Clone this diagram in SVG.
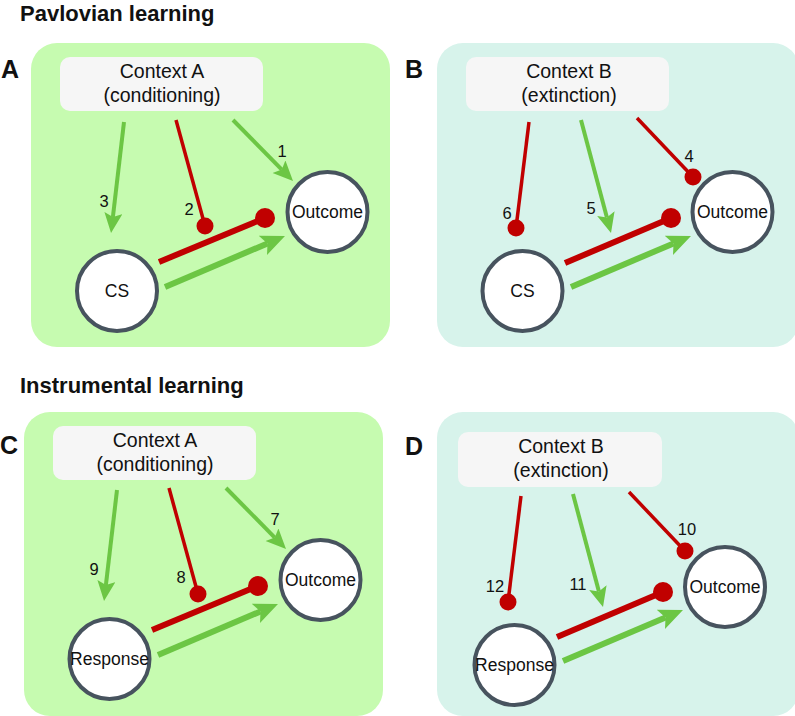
<svg xmlns="http://www.w3.org/2000/svg" width="795" height="716" viewBox="0 0 795 716">
<defs>
<style>
.title{font-family:"Liberation Sans",Arial,sans-serif;font-weight:bold;font-size:22px;fill:#111}
.plabel{font-family:"Liberation Sans",Arial,sans-serif;font-weight:bold;font-size:25px;fill:#111}
.ctx{font-family:"Liberation Sans",Arial,sans-serif;font-size:19.5px;fill:#111;text-anchor:middle}
.node{font-family:"Liberation Sans",Arial,sans-serif;font-size:17.5px;fill:#111;text-anchor:middle}
.num{font-family:"Liberation Sans",Arial,sans-serif;font-size:16.5px;fill:#111;text-anchor:middle}
.bgA{fill:#c6fbb0}
.bgB{fill:#d7f3eb}
.ctxbox{fill:#f6f6f6}
.circ{fill:#fff;stroke:#47535e;stroke-width:4}
.g{stroke:#6cc644;stroke-width:4;fill:none}
.gt{stroke:#6cc644;stroke-width:6;fill:none}
.r{stroke:#c00000;stroke-width:3.5;fill:none}
.rt{stroke:#c00000;stroke-width:6;fill:none}
.dot{fill:#c00000}
</style>
<marker id="ah" markerUnits="userSpaceOnUse" markerWidth="22" markerHeight="20" refX="4" refY="9" orient="auto">
<path d="M0,0 L20,9 L0,18 L4,9 z" fill="#6cc644"/>
</marker>
<marker id="ahT" markerUnits="userSpaceOnUse" markerWidth="26" markerHeight="23" refX="5" refY="10.5" orient="auto">
<path d="M0,0 L24,10.5 L0,21 L5,10.5 z" fill="#6cc644"/>
</marker>
</defs>
<rect width="795" height="716" fill="#fff"/>

<text class="title" x="20" y="21">Pavlovian learning</text>
<text class="title" x="20" y="393">Instrumental learning</text>

<g id="panelA">
<rect class="bgA" x="31" y="43" width="359" height="304" rx="26"/>
<text class="plabel" x="1" y="78">A</text>
</g>
<g id="panelB">
<rect class="bgB" x="437" y="43" width="362" height="304" rx="26"/>
<text class="plabel" x="405" y="78">B</text>
</g>
<g id="panelC">
<rect class="bgA" x="24" y="412" width="359" height="304" rx="26"/>
<text class="plabel" x="0" y="454">C</text>
</g>
<g id="panelD">
<rect class="bgB" x="437" y="412" width="362" height="304" rx="26"/>
<text class="plabel" x="405" y="455">D</text>
</g>

<g id="connectors">
<!-- A -->
<line class="g" x1="124" y1="122" x2="112.9" y2="217.1" marker-end="url(#ah)"/>
<line class="r" x1="176" y1="120" x2="205" y2="226"/>
<circle class="dot" cx="205" cy="226" r="8.5"/>
<line class="g" x1="233" y1="120" x2="281.8" y2="169.6" marker-end="url(#ah)"/>
<line class="rt" x1="159" y1="262" x2="265" y2="218"/>
<circle class="dot" cx="265" cy="218" r="10"/>
<line class="gt" x1="165" y1="287" x2="267.5" y2="243.4" marker-end="url(#ahT)"/>
<!-- B -->
<line class="r" x1="529" y1="122" x2="516" y2="228"/>
<circle class="dot" cx="516" cy="228" r="8.5"/>
<line class="g" x1="581" y1="120" x2="606.9" y2="217.5" marker-end="url(#ah)"/>
<line class="r" x1="637" y1="118" x2="693" y2="177"/>
<circle class="dot" cx="693" cy="177" r="8.5"/>
<line class="rt" x1="565" y1="263" x2="671" y2="218"/>
<circle class="dot" cx="671" cy="218" r="10"/>
<line class="gt" x1="571" y1="287" x2="673.5" y2="243.4" marker-end="url(#ahT)"/>
<!-- C -->
<line class="g" x1="117" y1="490" x2="105.9" y2="585.1" marker-end="url(#ah)"/>
<line class="r" x1="169" y1="488" x2="198" y2="594"/>
<circle class="dot" cx="198" cy="594" r="8.5"/>
<line class="g" x1="226" y1="488" x2="274.8" y2="537.6" marker-end="url(#ah)"/>
<line class="rt" x1="152" y1="630" x2="258" y2="586"/>
<circle class="dot" cx="258" cy="586" r="10"/>
<line class="gt" x1="158" y1="655" x2="260.5" y2="611.4" marker-end="url(#ahT)"/>
<!-- D -->
<line class="r" x1="521" y1="496" x2="508" y2="602"/>
<circle class="dot" cx="508" cy="602" r="8.5"/>
<line class="g" x1="573" y1="494" x2="598.9" y2="591.5" marker-end="url(#ah)"/>
<line class="r" x1="629" y1="492" x2="685" y2="551"/>
<circle class="dot" cx="685" cy="551" r="8.5"/>
<line class="rt" x1="557" y1="637" x2="663" y2="592"/>
<circle class="dot" cx="663" cy="592" r="10"/>
<line class="gt" x1="563" y1="661" x2="665.5" y2="617.4" marker-end="url(#ahT)"/>
</g>

<g id="labels">
<text class="num" x="282" y="157">1</text>
<text class="num" x="189" y="215">2</text>
<text class="num" x="104" y="207">3</text>
<text class="num" x="689" y="162">4</text>
<text class="num" x="591" y="214">5</text>
<text class="num" x="507" y="219">6</text>
<text class="num" x="275" y="525">7</text>
<text class="num" x="181" y="583">8</text>
<text class="num" x="94" y="575">9</text>
<text class="num" x="687" y="535">10</text>
<text class="num" x="578" y="590">11</text>
<text class="num" x="495" y="592">12</text>
</g>

<g id="ctxA1">
<rect class="ctxbox" x="60" y="57" width="203" height="54" rx="10"/>
<text class="ctx" x="162" y="78">Context A</text>
<text class="ctx" x="162" y="102">(conditioning)</text>
</g>
<g id="csA">
<circle class="circ" cx="117" cy="291" r="40"/>
<text class="node" x="117" y="297">CS</text>
</g>
<g id="outcomeA">
<circle class="circ" cx="327.5" cy="212" r="40"/>
<text class="node" x="327.5" y="218">Outcome</text>
</g>

<g id="ctxB1">
<rect class="ctxbox" x="466" y="57" width="203" height="54" rx="10"/>
<text class="ctx" x="569" y="78">Context B</text>
<text class="ctx" x="569" y="102">(extinction)</text>
</g>
<g id="csB">
<circle class="circ" cx="522.5" cy="291" r="40"/>
<text class="node" x="522.5" y="297">CS</text>
</g>
<g id="outcomeB">
<circle class="circ" cx="732.5" cy="212" r="40"/>
<text class="node" x="732.5" y="218">Outcome</text>
</g>

<g id="ctxA2">
<rect class="ctxbox" x="53" y="426" width="203" height="54" rx="10"/>
<text class="ctx" x="155" y="447">Context A</text>
<text class="ctx" x="155" y="471">(conditioning)</text>
</g>
<g id="responseC">
<circle class="circ" cx="109.5" cy="659" r="40"/>
<text class="node" x="109.5" y="665">Response</text>
</g>
<g id="outcomeC">
<circle class="circ" cx="320.5" cy="580" r="40"/>
<text class="node" x="320.5" y="586">Outcome</text>
</g>

<g id="ctxB2">
<rect class="ctxbox" x="458" y="432" width="204" height="55" rx="10"/>
<text class="ctx" x="561" y="453">Context B</text>
<text class="ctx" x="561" y="477">(extinction)</text>
</g>
<g id="responseD">
<circle class="circ" cx="514.5" cy="665" r="40"/>
<text class="node" x="514.5" y="671">Response</text>
</g>
<g id="outcomeD">
<circle class="circ" cx="725" cy="587" r="40"/>
<text class="node" x="725" y="593">Outcome</text>
</g>
</svg>
